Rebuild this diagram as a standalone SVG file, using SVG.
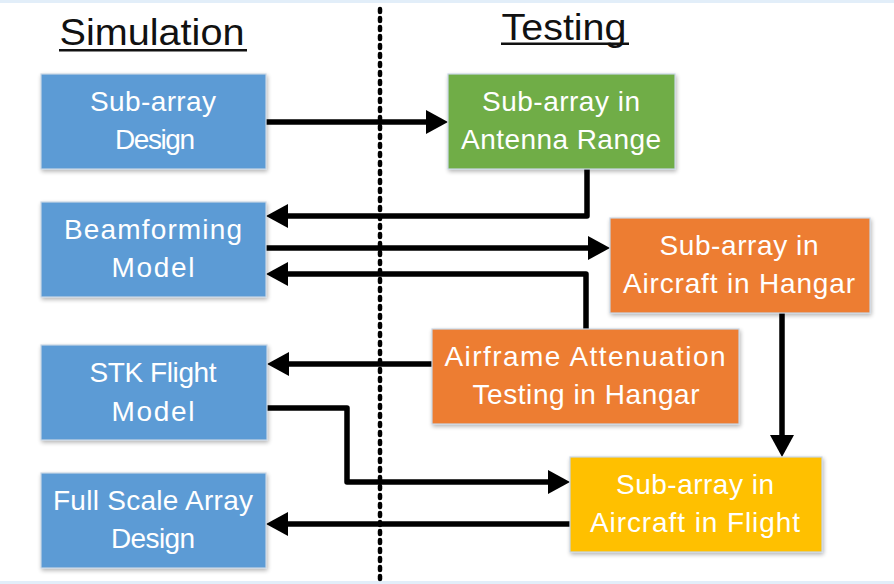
<svg xmlns="http://www.w3.org/2000/svg" width="894" height="584" viewBox="0 0 894 584">
<defs>
<filter id="sh" x="-5%" y="-5%" width="115%" height="120%">
<feGaussianBlur in="SourceAlpha" stdDeviation="2"/>
<feOffset dx="1" dy="2" result="b"/>
<feComponentTransfer><feFuncA type="linear" slope="0.3"/></feComponentTransfer>
<feMerge><feMergeNode/><feMergeNode in="SourceGraphic"/></feMerge>
</filter>
<marker id="ah" markerUnits="userSpaceOnUse" markerWidth="22" markerHeight="24" refX="0" refY="12" orient="auto" overflow="visible">
<path d="M0,0 L22,12 L0,24 Z" fill="#000"/>
</marker>
</defs>
<style>
.box{stroke:#c8d6e5;stroke-width:1.2;filter:url(#sh)}
.blue{fill:#5b9bd5}.green{fill:#70ad47}.orange{fill:#ed7d31}.yellow{fill:#ffc000}
.t{font-family:"Liberation Sans",Arial,sans-serif;font-size:28px;fill:#fff;text-anchor:middle}
.h{font-family:"Liberation Sans",Arial,sans-serif;font-size:36px;fill:#111;text-anchor:middle}
.c{fill:none;stroke:#000;stroke-width:5.5;stroke-linejoin:round;stroke-linecap:round}
.ca{marker-end:url(#ah);stroke-linecap:butt}
</style>
<rect x="0" y="0" width="894" height="584" fill="#fff"/>
<rect x="0" y="0" width="894" height="3" fill="#e2eef9"/>
<rect x="0" y="581" width="894" height="3" fill="#e2eef9"/>
<g id="divider">
<line x1="380" y1="9" x2="380" y2="580" stroke="#000" stroke-width="4.5" stroke-linecap="round" stroke-dasharray="3 6"/>
</g>
<g id="title-simulation">
<text class="h" x="152" y="45" textLength="185" lengthAdjust="spacingAndGlyphs">Simulation</text>
<rect x="59" y="49" width="188" height="2.5" fill="#111"/>
</g>
<g id="title-testing">
<text class="h" x="564" y="40" textLength="125" lengthAdjust="spacingAndGlyphs">Testing</text>
<rect x="501" y="42.5" width="128" height="2.5" fill="#111"/>
</g>
<g id="connectors">
<path class="c ca" d="M266,122 H426"/>
<path class="c ca" d="M587,169 V216 H288"/>
<path class="c ca" d="M266,248 H588"/>
<path class="c ca" d="M586,329 V274 H288"/>
<path class="c ca" d="M432,364 H289"/>
<path class="c ca" d="M266,408 H347 V482 H548"/>
<path class="c ca" d="M782,313 V435"/>
<path class="c ca" d="M570,524 H288"/>
</g>
<g id="sub-array-design">
<rect class="box blue" x="41" y="74" width="225" height="95"/>
<text class="t" x="153" y="111" textLength="126" lengthAdjust="spacing">Sub-array</text>
<text class="t" x="155" y="149" textLength="80" lengthAdjust="spacing">Design</text>
</g>
<g id="sub-array-antenna-range">
<rect class="box green" x="448" y="74" width="227" height="95"/>
<text class="t" x="561" y="111" textLength="158" lengthAdjust="spacing">Sub-array in</text>
<text class="t" x="561" y="149" textLength="200" lengthAdjust="spacing">Antenna Range</text>
</g>
<g id="beamforming-model">
<rect class="box blue" x="41" y="202" width="225" height="95"/>
<text class="t" x="153" y="239" textLength="178" lengthAdjust="spacing">Beamforming</text>
<text class="t" x="153" y="277" textLength="83" lengthAdjust="spacing">Model</text>
</g>
<g id="sub-array-aircraft-hangar">
<rect class="box orange" x="610" y="218" width="260" height="95"/>
<text class="t" x="739" y="255" textLength="159" lengthAdjust="spacing">Sub-array in</text>
<text class="t" x="739" y="293" textLength="232" lengthAdjust="spacing">Aircraft in Hangar</text>
</g>
<g id="airframe-attenuation">
<rect class="box orange" x="432" y="329" width="307" height="95"/>
<text class="t" x="585" y="366" textLength="281" lengthAdjust="spacing">Airframe Attenuation</text>
<text class="t" x="586" y="404" textLength="227" lengthAdjust="spacing">Testing in Hangar</text>
</g>
<g id="stk-flight-model">
<rect class="box blue" x="41" y="345" width="226" height="95"/>
<text class="t" x="153" y="382" textLength="127" lengthAdjust="spacing">STK Flight</text>
<text class="t" x="153" y="421" textLength="83" lengthAdjust="spacing">Model</text>
</g>
<g id="full-scale-array-design">
<rect class="box blue" x="41" y="473" width="225" height="95"/>
<text class="t" x="153" y="510" textLength="200" lengthAdjust="spacing">Full Scale Array</text>
<text class="t" x="153" y="548" textLength="84" lengthAdjust="spacing">Design</text>
</g>
<g id="sub-array-aircraft-flight">
<rect class="box yellow" x="570" y="457" width="252" height="95"/>
<text class="t" x="695" y="494" textLength="158" lengthAdjust="spacing">Sub-array in</text>
<text class="t" x="695" y="532" textLength="210" lengthAdjust="spacing">Aircraft in Flight</text>
</g>
</svg>
